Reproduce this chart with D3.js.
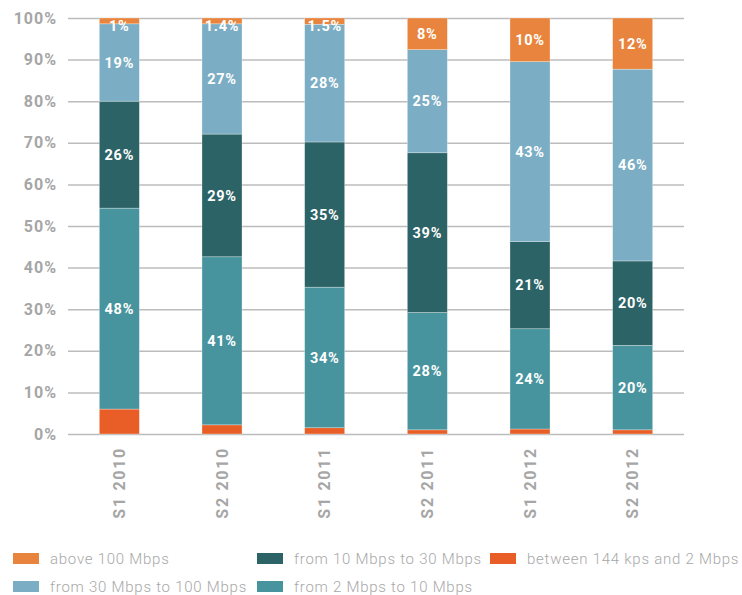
<!DOCTYPE html>
<html>
<head>
<meta charset="utf-8">
<script src="https://cdn.jsdelivr.net/npm/d3@7"></script>
<style>
body { margin: 0; background: #fff; }
</style>
</head>
<body>
<div id="chart"></div>
<script>
// Chart data (percent shares, bottom series first)
var periods = ["S1 2010", "S2 2010", "S1 2011", "S2 2011", "S1 2012", "S2 2012"];
var seriesNames = ["between 144 kps and 2 Mbps", "from 2 Mbps to 10 Mbps", "from 10 Mbps to 30 Mbps", "from 30 Mbps to 100 Mbps", "above 100 Mbps"];
var between144To2 = [6, 2.2, 1.5, 1, 1.2, 1];
var from2To10 = [48.3, 40.4, 33.8, 28.2, 24.1, 20.3];
var from10To30 = [25.7, 29.5, 34.9, 38.4, 21, 20.3];
var from30To100 = [18.6, 26.5, 28.3, 24.8, 43.2, 46.1];
var above100 = [1.4, 1.4, 1.5, 7.6, 10.5, 12.3];
// labels as printed on the bars (null = no label)
var labels144 = [null, null, null, null, null, null];
var labels2To10 = ["48%", "41%", "34%", "28%", "24%", "20%"];
var labels10To30 = ["26%", "29%", "35%", "39%", "21%", "20%"];
var labels30To100 = ["19%", "27%", "28%", "25%", "43%", "46%"];
var labelsAbove100 = ["1%", "1.4%", "1.5%", "8%", "10%", "12%"];
var yTicks = [0, 10, 20, 30, 40, 50, 60, 70, 80, 90, 100];

var colors = ["#e85e26", "#47949e", "#2c6366", "#7badc4", "#e8843d"];
var allValues = [between144To2, from2To10, from10To30, from30To100, above100];
var allLabels = [labels144, labels2To10, labels10To30, labels30To100, labelsAbove100];

var w = 742, h = 595;

var svg = d3.select("#chart").append("svg")
    .attr("width", w)
    .attr("height", h);

//scales
var xscale = d3.scaleBand()
    .domain(periods)
    .range([68, 684])
    .paddingInner(0.61)
    .paddingOuter(0.305);

var yscale = d3.scaleLinear()
    .domain([0, 100])
    .range([434, 18]);

//gridlines + y labels
var yaxis = d3.axisLeft(yscale)
    .tickValues(yTicks)
    .tickSize(-(684 - 68))
    .tickFormat(d => d + "%");

var gy = svg.append("g")
    .attr("transform", "translate(68,0)")
    .call(yaxis);
gy.select(".domain").remove();
gy.selectAll(".tick line")
    .attr("stroke", "#bcbcbc")
    .attr("stroke-width", 1.5);
gy.selectAll(".tick text")
    .attr("x", -11)
    .attr("fill", "#a6a6a6")
    .style("font-family", "Roboto, sans-serif")
    .style("font-weight", "bold")
    .style("font-size", "16px")
    .style("letter-spacing", "1px");

//stack the data
var rows = periods.map(function(p, i) {
    var row = { period: p };
    seriesNames.forEach(function(s, k) { row[s] = allValues[k][i]; });
    return row;
});
var stacked = d3.stack().keys(seriesNames)(rows);

var layers = svg.selectAll("g.layer")
    .data(stacked)
    .enter()
    .append("g")
    .attr("class", "layer")
    .attr("fill", (d, k) => colors[k]);

layers.selectAll("rect")
    .data(d => d)
    .enter()
    .append("rect")
    .attr("x", d => xscale(d.data.period))
    .attr("y", d => yscale(d[1]))
    .attr("width", xscale.bandwidth())
    .attr("height", d => yscale(d[0]) - yscale(d[1]))
    .attr("stroke", "#ffffff")
    .attr("stroke-opacity", 0.5)
    .attr("stroke-width", 0.6);

//labels inside bars
layers.each(function(layer, k) {
    d3.select(this).selectAll("text")
        .data(layer)
        .enter()
        .filter((d, i) => allLabels[k][i] != null)
        .append("text")
        .attr("x", d => xscale(d.data.period) + xscale.bandwidth() / 2)
        .attr("y", d => Math.max(yscale((d[0] + d[1]) / 2), 26))
        .attr("dy", "0.36em")
        .attr("text-anchor", "middle")
        .attr("fill", "#ffffff")
        .style("font-family", "Roboto, sans-serif")
        .style("font-weight", "bold")
        .style("font-size", "14.5px")
        .style("letter-spacing", "0.7px")
        .text(d => allLabels[k][layer.indexOf(d)]);
});

//x labels rotated
svg.selectAll("text.xlab")
    .data(periods)
    .enter()
    .append("text")
    .attr("class", "xlab")
    .attr("transform", d => "translate(" + (xscale(d) + xscale.bandwidth() / 2) + ",447) rotate(-90)")
    .attr("dy", "0.36em")
    .attr("text-anchor", "end")
    .attr("fill", "#a6a6a6")
    .style("font-family", "Roboto, sans-serif")
    .style("font-weight", "bold")
    .style("font-size", "16px")
    .style("letter-spacing", "1.7px")
    .text(d => d);

//legend
var legendOrder = [4, 2, 0, 3, 1];
var legendPos = [[13, 559], [257, 559], [490, 559], [13, 587], [257, 587]];
var legend = svg.selectAll("g.legend")
    .data(legendOrder)
    .enter()
    .append("g")
    .attr("class", "legend")
    .attr("transform", (d, i) => "translate(" + legendPos[i][0] + "," + legendPos[i][1] + ")");

legend.append("rect")
    .attr("x", 0)
    .attr("y", -6)
    .attr("width", 26)
    .attr("height", 11)
    .attr("fill", d => colors[d]);

legend.append("text")
    .attr("x", 37)
    .attr("dy", "0.36em")
    .attr("fill", "#a8a8a8")
    .style("font-family", "Roboto, sans-serif")
    .style("font-weight", "300")
    .style("font-size", "15px")
    .style("letter-spacing", "0.75px")
    .text(d => seriesNames[d]);
</script>
</body>
</html>
